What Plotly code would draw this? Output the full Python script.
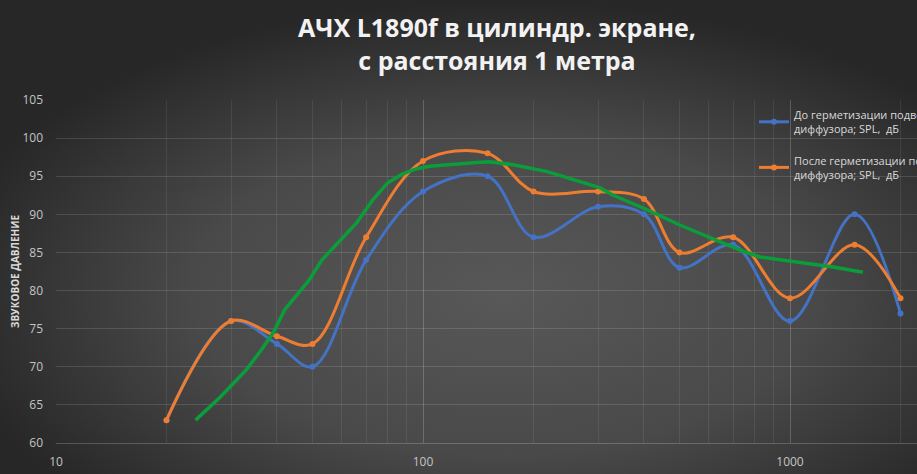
import base64
import plotly.graph_objects as go

# ---- data ----
freq = [20, 30, 40, 50, 70, 100, 150, 200, 300, 400, 500, 700, 1000, 1500, 2000]
spl_before = [63, 76, 73, 70, 84, 93, 95, 87, 91, 90, 83, 86, 76, 90, 77]
spl_after = [63, 76, 74, 73, 87, 97, 98, 93, 93, 92, 85, 87, 79, 86, 79]

green_freq = [24, 26, 28, 30, 33, 36, 39, 42, 45, 49, 53, 59, 66, 73, 80, 88, 95, 104,
              115, 128, 140, 152, 176, 218, 268, 303, 330, 408, 501, 605, 731, 828,
              982, 1156, 1310, 1580]
green_spl = [63, 64.5, 66, 67.5, 69.6, 72, 74.4, 77.5, 79.2, 81.4, 84, 86.4, 88.9, 91.9,
             94.1, 95.3, 95.9, 96.3, 96.5, 96.6, 96.8, 96.9, 96.5, 95.6, 94.3, 93.5,
             92.5, 90.6, 88.6, 86.9, 85.3, 84.4, 83.9, 83.4, 83.1, 82.4]

x_tickvals = [10, 100, 1000]
x_ticktext = ["10", "100", "1000"]

name_before = "До герметизации подвеса<br>диффузора; SPL,  дБ"
name_after = "После герметизации подвеса<br>диффузора; SPL,  дБ"
title_text = "<b>АЧХ L1890f в цилиндр. экране,<br>с расстояния 1 метра</b>"
y_title = "<b>ЗВУКОВОЕ ДАВЛЕНИЕ</b>"

# ---- figure geometry ----
W, H = 917, 474
ML, MR, MT, MB = 56, 0, 100, 31
PW, PH = W - ML - MR, H - MT - MB

svg = f'''<svg xmlns="http://www.w3.org/2000/svg" width="{W}" height="{H}" viewBox="0 0 {W} {H}" preserveAspectRatio="none">
<defs><radialGradient id="g" cx="55%" cy="62%" r="62%" gradientUnits="objectBoundingBox">
<stop offset="0" stop-color="#585858"/><stop offset="0.55" stop-color="#494949"/><stop offset="1" stop-color="#272727"/>
</radialGradient></defs><rect x="0" y="0" width="{W}" height="{H}" fill="url(#g)"/></svg>'''
bg_src = "data:image/svg+xml;base64," + base64.b64encode(svg.encode()).decode()

BLUE = "#4472C4"
ORANGE = "#ED7D31"
GREEN = "#0a9e3a"

fig = go.Figure()
fig.add_trace(go.Scatter(
    x=freq, y=spl_before, name=name_before, mode="lines+markers",
    line=dict(color=BLUE, width=3, shape="spline", smoothing=1),
    marker=dict(color=BLUE, size=6), legendgroup="a"))
fig.add_trace(go.Scatter(
    x=freq, y=spl_after, name=name_after, mode="lines+markers",
    line=dict(color=ORANGE, width=3, shape="spline", smoothing=1),
    marker=dict(color=ORANGE, size=6), legendgroup="b"))
fig.add_trace(go.Scatter(
    x=green_freq, y=green_spl, mode="lines", showlegend=False,
    line=dict(color=GREEN, width=3.5)))

grid_major = "rgba(255,255,255,0.13)"
grid_minor = "rgba(255,255,255,0.08)"
tick_font = dict(family="Open Sans, sans-serif", size=12, color="#c4c4c4")

fig.update_layout(
    width=W, height=H,
    margin=dict(l=ML, r=MR, t=MT, b=MB, autoexpand=False),
    paper_bgcolor="#3a3a3a",
    plot_bgcolor="rgba(0,0,0,0)",
    font=dict(family="Open Sans, sans-serif", color="#d9d9d9"),
    title=dict(text=title_text, x=497 / W, xanchor="center", y=1 - 37 / H, yanchor="middle",
               font=dict(family="Open Sans, sans-serif", size=25, color="#f2f2f2")),
    images=[dict(source=bg_src, xref="paper", yref="paper",
                 x=-ML / PW, y=1 + MT / PH, sizex=W / PW, sizey=H / PH,
                 xanchor="left", yanchor="top", sizing="stretch", layer="below")],
    legend=dict(x=(754 - ML) / PW, y=(443 - 101) / PH, xanchor="left", yanchor="top",
                bgcolor="rgba(0,0,0,0)", font=dict(size=11, color="#d9d9d9"),
                traceorder="grouped", tracegroupgap=14, itemwidth=30),
    showlegend=True,
)
fig.update_xaxes(
    type="log", range=[1, 1 + PW / 367.0],
    tickvals=x_tickvals, ticktext=x_ticktext, tickfont=tick_font,
    showgrid=True, gridcolor=grid_major, gridwidth=1,
    minor=dict(showgrid=True, gridcolor=grid_minor, dtick="D1"),
    zeroline=False, showline=True, linecolor="rgba(255,255,255,0.2)",
    ticks="", ticklabelstandoff=8,
)
fig.update_yaxes(
    range=[60, 105], dtick=5, tick0=60, tickfont=tick_font,
    showgrid=True, gridcolor=grid_major, gridwidth=1,
    zeroline=False, showline=False, ticks="", ticklabelstandoff=12,
    title=dict(text=y_title, font=dict(family="Open Sans, sans-serif", size=10, color="#d9d9d9"),
               standoff=0),
)

fig.write_html(
    "out.html",
    config={"displayModeBar": False},
    post_script="document.body.style.margin='0';document.body.style.overflow='hidden';",
)
